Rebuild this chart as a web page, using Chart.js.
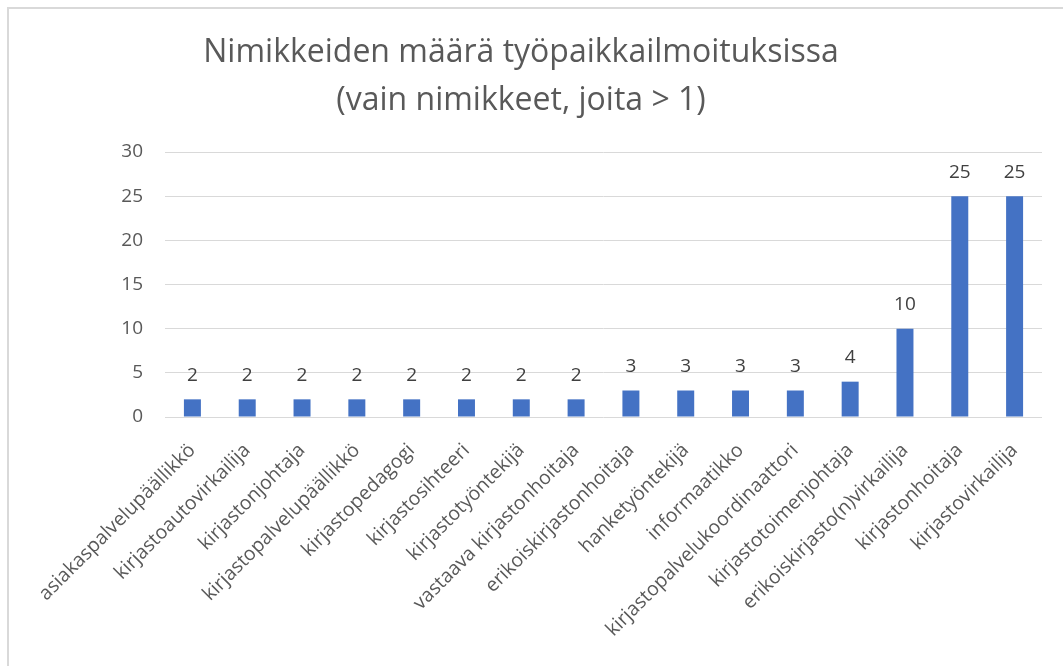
<!DOCTYPE html>
<html>
<head>
<meta charset="utf-8">
<script src="https://cdn.jsdelivr.net/npm/chart.js@4.4.1/dist/chart.umd.min.js"></script>
<style>
  html, body { margin: 0; padding: 0; background: #fff; }
  #frame {
    position: absolute; left: 7px; top: 7px; width: 1070px; height: 680px;
    border-left: 2px solid #d9d9d9; border-top: 2px solid #d9d9d9;
  }
  #wrap { position: absolute; left: 0; top: 0; width: 1063px; height: 666px; }
</style>
</head>
<body>
<div id="frame"></div>
<div id="wrap"><canvas id="titleChart"></canvas></div>
<script>
// Nimikkeet ja niiden lukumäärät
const categories = [
  'asiakaspalvelupäällikkö', 'kirjastoautovirkailija', 'kirjastonjohtaja',
  'kirjastopalvelupäällikkö', 'kirjastopedagogi', 'kirjastosihteeri',
  'kirjastotyöntekijä', 'vastaava kirjastonhoitaja', 'erikoiskirjastonhoitaja',
  'hanketyöntekijä', 'informaatikko', 'kirjastopalvelukoordinaattori',
  'kirjastotoimenjohtaja', 'erikoiskirjasto(n)virkailija', 'kirjastonhoitaja',
  'kirjastovirkailija'
];
const counts = [2, 2, 2, 2, 2, 2, 2, 2, 3, 3, 3, 3, 4, 10, 25, 25];
const yTicks = [0, 5, 10, 15, 20, 25, 30];
const titleLines = ['Nimikkeiden määrä työpaikkailmoituksissa', '(vain nimikkeet, joita > 1)'];

// Draw value labels above each bar
const valueLabels = {
  id: 'valueLabels',
  afterDatasetsDraw(chart) {
    const ctx = chart.ctx;
    const meta = chart.getDatasetMeta(0);
    ctx.save();
    ctx.font = '19px "Open Sans", sans-serif';
    ctx.fillStyle = '#404040';
    ctx.textAlign = 'center';
    ctx.textBaseline = 'middle';
    meta.data.forEach((bar, i) => {
      ctx.fillText(String(counts[i]), bar.x, bar.y - 24);
    });
    ctx.restore();
  }
};

const ctx = document.getElementById('titleChart').getContext('2d');
new Chart(ctx, {
  type: 'bar',
  data: {
    labels: categories,
    datasets: [{
      data: counts,
      backgroundColor: '#4472C4',
      borderWidth: 0,
      barPercentage: 0.31,
      categoryPercentage: 1
    }]
  },
  options: {
    responsive: true,
    maintainAspectRatio: false,
    animation: false,
    layout: { padding: { top: 0, right: 21, bottom: 0, left: 0 } },
    plugins: {
      legend: { display: false },
      tooltip: { enabled: false },
      title: {
        display: true,
        text: titleLines,
        color: '#595959',
        font: { family: '"Open Sans", sans-serif', size: 32, weight: 'normal', lineHeight: 1.5 },
        padding: { top: 29, bottom: 27 }
      }
    },
    scales: {
      x: {
        grid: { display: false },
        border: { display: false },
        ticks: {
          color: '#595959',
          font: { family: '"Open Sans", sans-serif', size: 19.5 },
          maxRotation: 45,
          minRotation: 45,
          autoSkip: false,
          padding: 14
        },
        afterFit(scale) { scale.height = 249; }
      },
      y: {
        min: 0,
        max: 30,
        afterBuildTicks(scale) { scale.ticks = yTicks.map(v => ({ value: v })); },
        grid: { color: '#d9d9d9', lineWidth: 1, drawTicks: false },
        border: { display: false },
        ticks: {
          color: '#595959',
          font: { family: '"Open Sans", sans-serif', size: 19 },
          padding: 22
        },
        afterFit(scale) { scale.width = 165; }
      }
    }
  },
  plugins: [valueLabels]
});
</script>
</body>
</html>
